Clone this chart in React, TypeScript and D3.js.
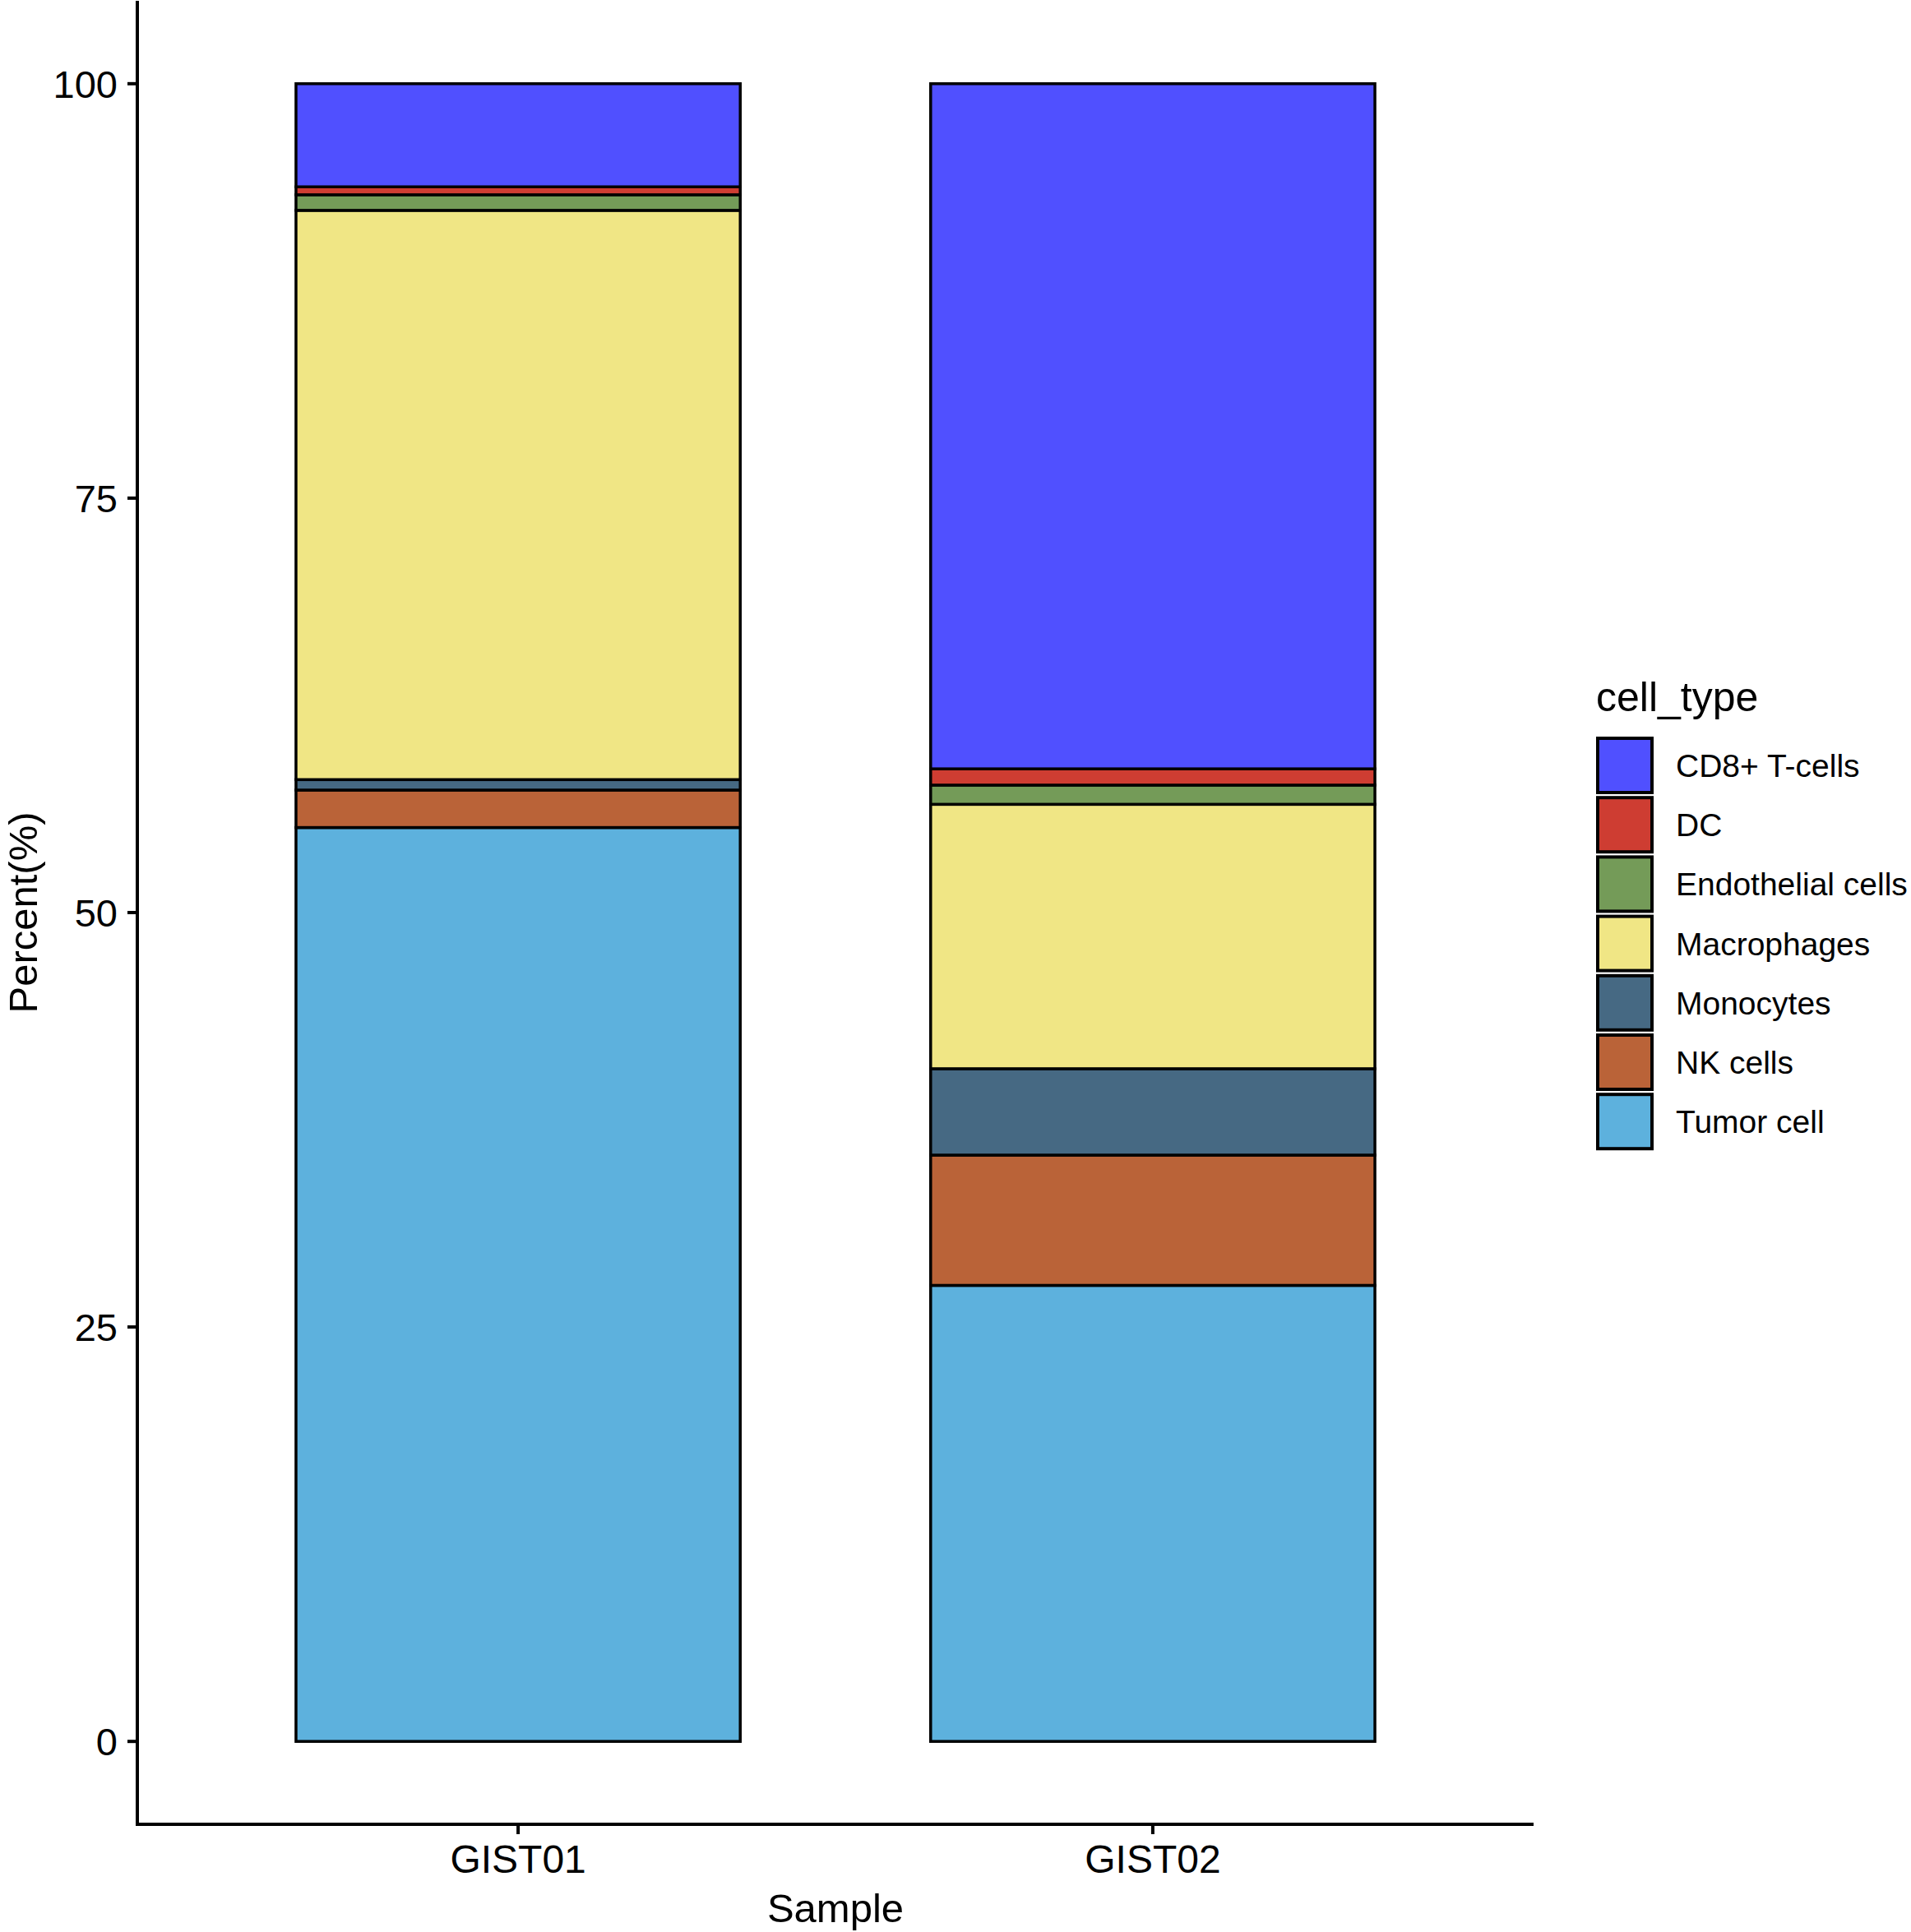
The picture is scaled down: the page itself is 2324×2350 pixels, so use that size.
import { useEffect, useRef } from 'react';
import * as d3 from 'd3';

// samples on the x axis
const samples = ['GIST01', 'GIST02'];

// legend order (top of each bar first, as ggplot stacks it)
const cellTypes = [
  'CD8+ T-cells',
  'DC',
  'Endothelial cells',
  'Macrophages',
  'Monocytes',
  'NK cells',
  'Tumor cell',
];

// igv palette
const cellColors = ['#5050FF', '#CE3D32', '#749B58', '#F0E685', '#466983', '#BA6338', '#5DB1DD'];

// percent per cell type, same order as cellTypes
const gist01Values = [6.22, 0.48, 0.94, 34.34, 0.63, 2.26, 55.13];
const gist02Values = [41.33, 0.98, 1.16, 15.95, 5.21, 7.86, 27.51];

const yTicks = [0, 25, 50, 75, 100];

const W = 2324;
const H = 2350;
const FONT = '"Liberation Sans", Arial, Helvetica, sans-serif';

export default function App() {
  const svgRef = useRef<SVGSVGElement>(null);

  useEffect(() => {
    document.body.style.margin = '0';
    if (!svgRef.current) return;
    const svg = d3.select(svgRef.current);
    svg.selectAll('*').remove();

    const panel = { left: 167, right: 1865, top: 1, bottom: 2219 };

    const x = d3.scalePoint<string>()
      .domain(samples)
      .range([panel.left, panel.right])
      .padding(0.6);
    const barW = x.step() * 0.7;

    const y = d3.scaleLinear()
      .domain([-5, 105])
      .range([panel.bottom, panel.top]);

    const color = d3.scaleOrdinal<string, string>().domain(cellTypes).range(cellColors);

    const rows = samples.map((s, i) => {
      const vals = i === 0 ? gist01Values : gist02Values;
      const row: Record<string, any> = { sample: s };
      cellTypes.forEach((c, j) => { row[c] = vals[j]; });
      return row;
    });

    // bottom-up: Tumor cell first
    const stack = d3.stack<any>().keys([...cellTypes].reverse());
    const series = stack(rows);

    const g = svg.append('g');

    series.forEach(layer => {
      g.selectAll(null)
        .data(layer)
        .enter()
        .append('rect')
        .attr('x', d => (x(d.data.sample) || 0) - barW / 2)
        .attr('y', d => y(d[1]))
        .attr('width', barW)
        .attr('height', d => y(d[0]) - y(d[1]))
        .attr('fill', color(layer.key))
        .attr('stroke', '#000')
        .attr('stroke-width', 3.5);
    });

    // axes
    const axisG = svg.append('g');
    axisG.append('line')
      .attr('x1', panel.left).attr('x2', panel.left)
      .attr('y1', panel.top).attr('y2', panel.bottom + 2)
      .attr('stroke', '#000').attr('stroke-width', 4);
    axisG.append('line')
      .attr('x1', panel.left - 2).attr('x2', panel.right)
      .attr('y1', panel.bottom).attr('y2', panel.bottom)
      .attr('stroke', '#000').attr('stroke-width', 4);

    yTicks.forEach(t => {
      axisG.append('line')
        .attr('x1', panel.left - 12).attr('x2', panel.left)
        .attr('y1', y(t)).attr('y2', y(t))
        .attr('stroke', '#000').attr('stroke-width', 4);
      axisG.append('text')
        .attr('x', panel.left - 24)
        .attr('y', y(t) + 17)
        .attr('text-anchor', 'end')
        .style('font-family', FONT)
        .style('font-size', '47px')
        .text(t);
    });

    samples.forEach(s => {
      axisG.append('line')
        .attr('x1', x(s) || 0).attr('x2', x(s) || 0)
        .attr('y1', panel.bottom).attr('y2', panel.bottom + 12)
        .attr('stroke', '#000').attr('stroke-width', 4);
      axisG.append('text')
        .attr('x', x(s) || 0)
        .attr('y', 2278)
        .attr('text-anchor', 'middle')
        .style('font-family', FONT)
        .style('font-size', '48px')
        .text(s);
    });

    svg.append('text')
      .attr('x', (panel.left + panel.right) / 2)
      .attr('y', 2338)
      .attr('text-anchor', 'middle')
      .style('font-family', FONT)
      .style('font-size', '49px')
      .text('Sample');

    svg.append('text')
      .attr('transform', `translate(45, ${(panel.top + panel.bottom) / 2}) rotate(-90)`)
      .attr('text-anchor', 'middle')
      .style('font-family', FONT)
      .style('font-size', '49px')
      .text('Percent(%)');

    // legend
    const leg = svg.append('g');
    leg.append('text')
      .attr('x', 1941)
      .attr('y', 865)
      .style('font-family', FONT)
      .style('font-size', '50px')
      .text('cell_type');

    const keyTop = 896;
    const keyStep = 72.2;
    const keySize = 70;
    cellTypes.forEach((c, i) => {
      const ky = keyTop + i * keyStep;
      leg.append('rect')
        .attr('x', 1943)
        .attr('y', ky + 2)
        .attr('width', keySize - 4)
        .attr('height', keySize - 4)
        .attr('fill', color(c))
        .attr('stroke', '#000')
        .attr('stroke-width', 4);
      leg.append('text')
        .attr('x', 2038)
        .attr('y', ky + keySize / 2 + 14)
        .style('font-family', FONT)
        .style('font-size', '39px')
        .text(c);
    });
  }, []);

  return <svg ref={svgRef} width={W} height={H} style={{ display: 'block', background: '#fff' }} />;
}
